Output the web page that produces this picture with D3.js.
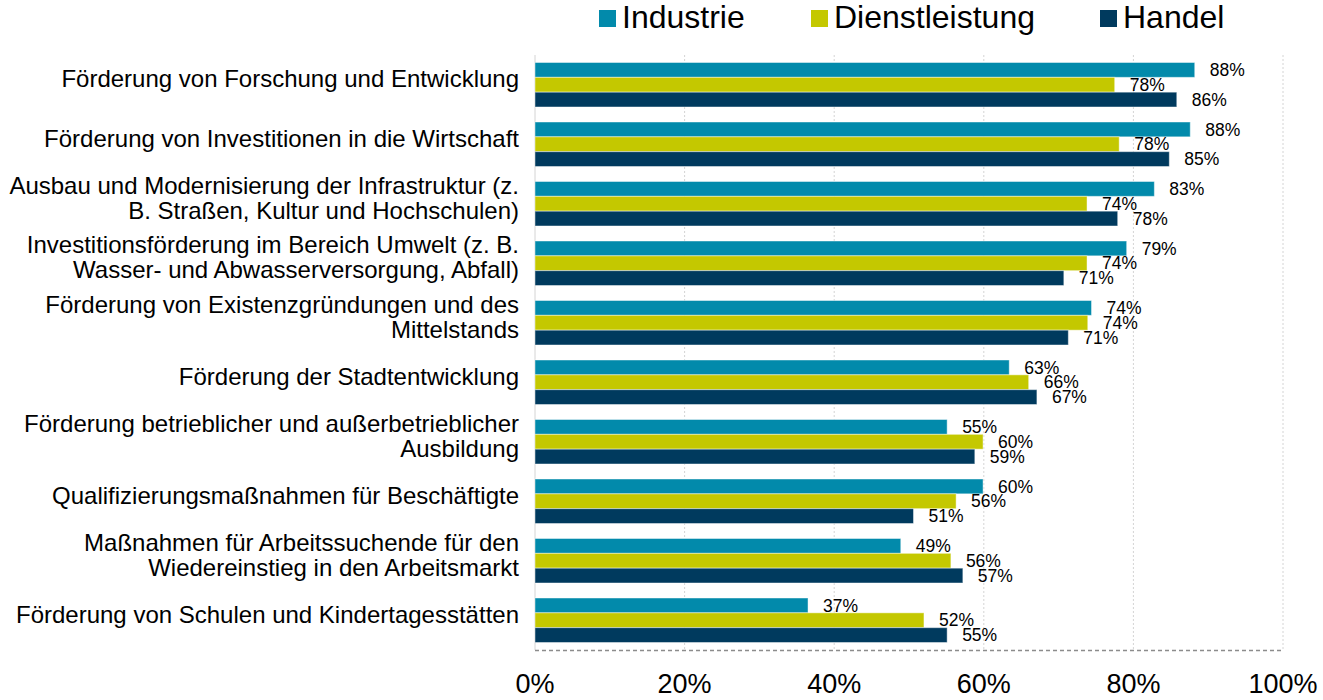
<!DOCTYPE html>
<html>
<head>
<meta charset="utf-8">
<script src="https://cdn.jsdelivr.net/npm/d3@7"></script>
<style>
  body { margin: 0; background: #fff; }
  text { font-family: "Liberation Sans", Arial, sans-serif; fill: #000; }
</style>
</head>
<body>
<svg width="1323" height="700"></svg>
<script>
var categories = [
  ["Förderung von Forschung und Entwicklung"],
  ["Förderung von Investitionen in die Wirtschaft"],
  ["Ausbau und Modernisierung der Infrastruktur (z.", "B. Straßen, Kultur und Hochschulen)"],
  ["Investitionsförderung im Bereich Umwelt (z. B.", "Wasser- und Abwasserversorgung, Abfall)"],
  ["Förderung von Existenzgründungen und des", "Mittelstands"],
  ["Förderung der Stadtentwicklung"],
  ["Förderung betrieblicher und außerbetrieblicher", "Ausbildung"],
  ["Qualifizierungsmaßnahmen für Beschäftigte"],
  ["Maßnahmen für Arbeitssuchende für den", "Wiedereinstieg in den Arbeitsmarkt"],
  ["Förderung von Schulen und Kindertagesstätten"]
];
var seriesNames = ["Industrie", "Dienstleistung", "Handel"];
var industrie = [88.2, 87.6, 82.8, 79.1, 74.4, 63.4, 55.1, 59.9, 48.9, 36.5];
var dienstleistung = [77.5, 78.1, 73.8, 73.8, 73.9, 66.0, 59.9, 56.3, 55.6, 52.0];
var handel = [85.8, 84.8, 77.9, 70.7, 71.3, 67.1, 58.8, 50.6, 57.2, 55.1];
var ticks = [0, 20, 40, 60, 80, 100];
var colors = ["#028aab", "#c4c800", "#003a5e"];

var svg = d3.select("svg");
var values = [industrie, dienstleistung, handel];

var x = d3.scaleLinear().domain([0, 100]).range([535, 1283]);
var y0 = d3.scaleBand().domain(d3.range(categories.length)).range([55, 650]);
var y1 = d3.scaleBand().domain(d3.range(3)).range([7.5, 52]);

// grid
svg.append("g")
  .selectAll("line")
  .data(ticks)
  .enter().append("line")
  .attr("x1", function(d) { return x(d); })
  .attr("x2", function(d) { return x(d); })
  .attr("y1", 55)
  .attr("y2", 650)
  .attr("stroke", "#d4d4d4")
  .attr("stroke-dasharray", function(d) { return d === 0 ? null : "2,2"; });

// bars
var group = svg.append("g")
  .selectAll("g")
  .data(categories)
  .enter().append("g")
  .attr("transform", function(d, i) { return "translate(0," + y0(i) + ")"; });

group.selectAll("rect")
  .data(function(d, i) { return values.map(function(v, s) { return { s: s, v: v[i] }; }); })
  .enter().append("rect")
  .attr("x", x(0))
  .attr("y", function(d) { return y1(d.s); })
  .attr("width", function(d) { return x(d.v) - x(0); })
  .attr("height", y1.bandwidth())
  .attr("fill", function(d) { return colors[d.s]; })
  .attr("stroke", "#ffffff")
  .attr("stroke-opacity", 0.45)
  .attr("stroke-width", 1);

group.selectAll("text.val")
  .data(function(d, i) { return values.map(function(v, s) { return { s: s, v: v[i] }; }); })
  .enter().append("text")
  .attr("class", "val")
  .attr("x", function(d) { return x(d.v) + 15; })
  .attr("y", function(d) { return y1(d.s) + y1.bandwidth() / 2 + 1.5; })
  .attr("dominant-baseline", "middle")
  .attr("font-size", 17.5)
  .text(function(d) { return Math.round(d.v) + "%"; });

// category labels
group.append("text")
  .attr("text-anchor", "end")
  .attr("font-size", 24)
  .each(function(d) {
    var t = d3.select(this);
    var mid = y0.bandwidth() / 2 - 4;
    d.forEach(function(line, k) {
      t.append("tspan")
        .attr("x", 519)
        .attr("y", mid + (k - (d.length - 1) / 2) * 25)
        .attr("dominant-baseline", "middle")
        .text(line);
    });
  });

// bottom dashed line
svg.append("line")
  .attr("x1", x(0)).attr("x2", x(100))
  .attr("y1", 650.5).attr("y2", 650.5)
  .attr("stroke", "#8c8c8c")
  .attr("stroke-width", 1.5)
  .attr("stroke-dasharray", "4,3");

// x tick labels
svg.append("g")
  .selectAll("text")
  .data(ticks)
  .enter().append("text")
  .attr("x", function(d) { return x(d); })
  .attr("y", 686)
  .attr("text-anchor", "middle")
  .attr("dominant-baseline", "middle")
  .attr("font-size", 27)
  .text(function(d) { return d + "%"; });

// legend
var legendX = [599, 811, 1100];
var legend = svg.append("g")
  .selectAll("g")
  .data(seriesNames)
  .enter().append("g")
  .attr("transform", function(d, i) { return "translate(" + legendX[i] + ",18)"; });

legend.append("rect")
  .attr("x", 0).attr("y", -8)
  .attr("width", 17).attr("height", 17)
  .attr("fill", function(d, i) { return colors[i]; });

legend.append("text")
  .attr("x", 23)
  .attr("y", 2)
  .attr("dominant-baseline", "middle")
  .attr("font-size", 32)
  .text(function(d) { return d; });
</script>
</body>
</html>
